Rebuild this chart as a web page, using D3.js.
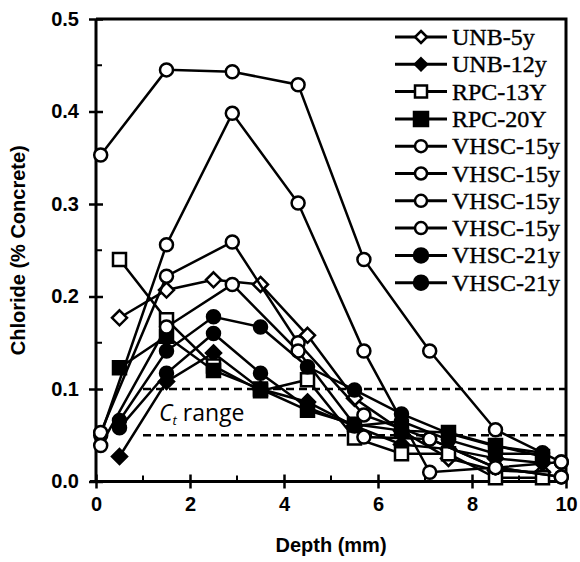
<!DOCTYPE html>
<html>
<head>
<meta charset="utf-8">
<script src="https://cdn.jsdelivr.net/npm/d3@7"></script>
<style>
  body { margin: 0; background: #fff; }
</style>
</head>
<body>
<div id="my_dataviz"></div>
<script>
// Data
const depthHalf = [0.5, 1.5, 2.5, 3.5, 4.5, 5.5, 6.5, 7.5, 8.5, 9.5];
const depthVhsc15 = [0.1, 1.5, 2.9, 4.3, 5.7, 7.1, 8.5, 9.9];

const unb5 = [0.177, 0.207, 0.218, 0.213, 0.158, 0.090, 0.055, 0.025, 0.012, 0.010];
const unb12 = [0.027, 0.108, 0.139, 0.100, 0.086, 0.060, 0.040, 0.035, 0.025, 0.020];
const rpc13 = [0.240, 0.175, 0.125, 0.098, 0.110, 0.047, 0.030, 0.030, 0.004, 0.004];
const rpc20 = [0.123, 0.157, 0.120, 0.100, 0.077, 0.062, 0.055, 0.053, 0.039, 0.027];
const vhsc15a = [0.353, 0.445, 0.443, 0.429, 0.240, 0.141, 0.056, 0.021];
const vhsc15b = [0.050, 0.256, 0.398, 0.301, 0.141, 0.010, 0.015, 0.005];
const vhsc15c = [0.053, 0.222, 0.259, 0.150, 0.072, 0.046, 0.015, 0.021];
const vhsc15d = [0.039, 0.167, 0.213, 0.141, 0.048, 0.046, 0.015, 0.005];
const vhsc21a = [0.066, 0.141, 0.178, 0.167, 0.124, 0.099, 0.073, 0.052, 0.038, 0.031];
const vhsc21b = [0.058, 0.117, 0.160, 0.117, 0.080, 0.060, 0.065, 0.045, 0.030, 0.030];

const seriesNames = [`UNB-5y`, `UNB-12y`, `RPC-13Y`, `RPC-20Y`, `VHSC-15y`, `VHSC-15y`, `VHSC-15y`, `VHSC-15y`, `VHSC-21y`, `VHSC-21y`];
const seriesShapes = [`diamond`, `diamond`, `square`, `square`, `circle`, `circle`, `circle`, `circle`, `circle`, `circle`];
const seriesFilled = [false, true, false, true, false, false, false, false, true, true];
const seriesX = [depthHalf, depthHalf, depthHalf, depthHalf, depthVhsc15, depthVhsc15, depthVhsc15, depthVhsc15, depthHalf, depthHalf];
const seriesY = [unb5, unb12, rpc13, rpc20, vhsc15a, vhsc15b, vhsc15c, vhsc15d, vhsc21a, vhsc21b];

const xTicks = [0, 2, 4, 6, 8, 10];
const yTicks = [0, 0.1, 0.2, 0.3, 0.4, 0.5];
const ctLevels = [0.05, 0.1];

// Layout
const width = 580;
const height = 562;
const plotLeft = 96, plotRight = 566, plotTop = 19, plotBottom = 481.5;
const axisFont = `Liberation Sans, Arial, sans-serif`;
const legendFont = `Liberation Serif, Times New Roman, serif`;
const lineWidth = 2.5;

const xScale = d3.scaleLinear().domain([0, 10]).range([plotLeft, plotRight]);
const yScale = d3.scaleLinear().domain([0, 0.5]).range([plotBottom, plotTop]);

const svg = d3.select(`#my_dataviz`)
    .append(`svg`)
    .attr(`width`, width)
    .attr(`height`, height);

// frame (top and right)
svg.append(`path`)
    .attr(`d`, `M${plotLeft},${plotTop}H${plotRight}V${plotBottom}`)
    .attr(`fill`, `none`)
    .attr(`stroke`, `black`)
    .attr(`stroke-width`, 3);

// dashed Ct range lines
svg.selectAll(`.ct`)
    .data(ctLevels)
    .enter()
    .append(`line`)
    .attr(`class`, `ct`)
    .attr(`x1`, xScale(1.0))
    .attr(`x2`, plotRight)
    .attr(`y1`, d => yScale(d))
    .attr(`y2`, d => yScale(d))
    .attr(`stroke`, `black`)
    .attr(`stroke-width`, 2.5)
    .attr(`stroke-dasharray`, `8,5`);

const ctText = svg.append(`text`)
    .attr(`x`, 159)
    .attr(`y`, 421)
    .style(`font-family`, `Open Sans, Noto Sans, sans-serif`)
    .style(`font-size`, `23px`)
    .attr(`fill`, `black`);
ctText.append(`tspan`).style(`font-style`, `italic`).text(`C`);
ctText.append(`tspan`).style(`font-style`, `italic`).style(`font-size`, `13px`).attr(`dy`, 4).text(`t`);
ctText.append(`tspan`).attr(`dy`, -4).text(` range`);

// axes
const xAxis = svg.append(`g`).attr(`transform`, `translate(0,${plotBottom})`);
xAxis.call(d3.axisBottom(xScale).tickValues(xTicks).tickSize(7).tickSizeOuter(0).tickPadding(8).tickFormat(d3.format(`d`)))
    .call(g => g.select(`.domain`).attr(`stroke-width`, 3).attr(`d`, `M${plotLeft - 6},0H${plotRight}`))
    .call(g => g.selectAll(`.tick line`).attr(`stroke-width`, 2.5).attr(`y1`, -7))
    .call(g => g.selectAll(`.tick text`)
        .style(`font-family`, axisFont)
        .style(`font-size`, `20px`)
        .style(`font-weight`, `bold`)
        .attr(`fill`, `black`));

xAxis.selectAll(`.minor`)
    .data([1, 3, 5, 7, 9])
    .enter()
    .append(`line`)
    .attr(`class`, `minor`)
    .attr(`x1`, d => xScale(d))
    .attr(`x2`, d => xScale(d))
    .attr(`y1`, 0)
    .attr(`y2`, -6)
    .attr(`stroke`, `black`)
    .attr(`stroke-width`, 2);

const yAxis = svg.append(`g`).attr(`transform`, `translate(${plotLeft},0)`);
yAxis.call(d3.axisLeft(yScale).tickValues(yTicks).tickSize(7).tickSizeOuter(0).tickPadding(10).tickFormat(d3.format(`.1f`)))
    .call(g => g.select(`.domain`).attr(`stroke-width`, 3).attr(`d`, `M0,${plotTop}V${plotBottom + 1}`))
    .call(g => g.selectAll(`.tick line`).attr(`stroke-width`, 2.5).attr(`x2`, 7).attr(`x1`, -7))
    .call(g => g.selectAll(`.tick text`)
        .style(`font-family`, axisFont)
        .style(`font-size`, `20px`)
        .style(`font-weight`, `bold`)
        .attr(`fill`, `black`));

yAxis.selectAll(`.minor`)
    .data([0.05, 0.15, 0.25, 0.35, 0.45])
    .enter()
    .append(`line`)
    .attr(`class`, `minor`)
    .attr(`x1`, 0)
    .attr(`x2`, 6)
    .attr(`y1`, d => yScale(d))
    .attr(`y2`, d => yScale(d))
    .attr(`stroke`, `black`)
    .attr(`stroke-width`, 2);

svg.append(`text`)
    .attr(`x`, (plotLeft + plotRight) / 2)
    .attr(`y`, 552)
    .attr(`text-anchor`, `middle`)
    .style(`font-family`, axisFont)
    .style(`font-size`, `20px`)
    .style(`font-weight`, `bold`)
    .text(`Depth (mm)`);

svg.append(`text`)
    .attr(`transform`, `translate(25,${(plotTop + plotBottom) / 2}) rotate(-90)`)
    .attr(`text-anchor`, `middle`)
    .style(`font-family`, axisFont)
    .style(`font-size`, `20px`)
    .style(`font-weight`, `bold`)
    .text(`Chloride (% Concrete)`);

// markers
const markerPath = (shape, s) => {
    if (shape === `diamond`) return `M0,${-s}L${s},0L0,${s}L${-s},0Z`;
    if (shape === `square`) return `M${-s},${-s}H${s}V${s}H${-s}Z`;
    return d3.arc()({innerRadius: 0, outerRadius: s, startAngle: 0, endAngle: 2 * Math.PI});
};
const markerSize = {diamond: 7.5, square: 6.5, circle: 6.5};

const line = d3.line().x(d => xScale(d[0])).y(d => yScale(d[1]));

seriesY.forEach((ys, i) => {
    const pts = ys.map((v, j) => [seriesX[i][j], v]);
    const g = svg.append(`g`).attr(`class`, `series`);
    g.append(`path`)
        .datum(pts)
        .attr(`d`, line)
        .attr(`fill`, `none`)
        .attr(`stroke`, `black`)
        .attr(`stroke-width`, lineWidth);
    g.selectAll(`.pt`)
        .data(pts)
        .enter()
        .append(`path`)
        .attr(`class`, `pt`)
        .attr(`transform`, d => `translate(${xScale(d[0])},${yScale(d[1])})`)
        .attr(`d`, markerPath(seriesShapes[i], markerSize[seriesShapes[i]]))
        .attr(`fill`, seriesFilled[i] ? `black` : `white`)
        .attr(`stroke`, `black`)
        .attr(`stroke-width`, lineWidth);
});

// legend
const legend = svg.append(`g`).attr(`transform`, `translate(395,37)`);
const rowH = 27.3;
seriesNames.forEach((name, i) => {
    const row = legend.append(`g`).attr(`transform`, `translate(0,${i * rowH})`);
    row.append(`line`)
        .attr(`x1`, 0).attr(`x2`, 52)
        .attr(`y1`, 0).attr(`y2`, 0)
        .attr(`stroke`, `black`)
        .attr(`stroke-width`, 3);
    row.append(`path`)
        .attr(`transform`, `translate(26,0)`)
        .attr(`d`, markerPath(seriesShapes[i], seriesShapes[i] === `diamond` ? 6 : (seriesFilled[i] ? 7 : 6)))
        .attr(`fill`, seriesFilled[i] ? `black` : `white`)
        .attr(`stroke`, `black`)
        .attr(`stroke-width`, 2.5);
    row.append(`text`)
        .attr(`x`, 57)
        .attr(`y`, 8)
        .style(`font-family`, legendFont)
        .style(`font-size`, `24px`)
        .attr(`fill`, `black`)
        .attr(`stroke`, `black`)
        .attr(`stroke-width`, 0.4)
        .text(name);
});
</script>
</body>
</html>
